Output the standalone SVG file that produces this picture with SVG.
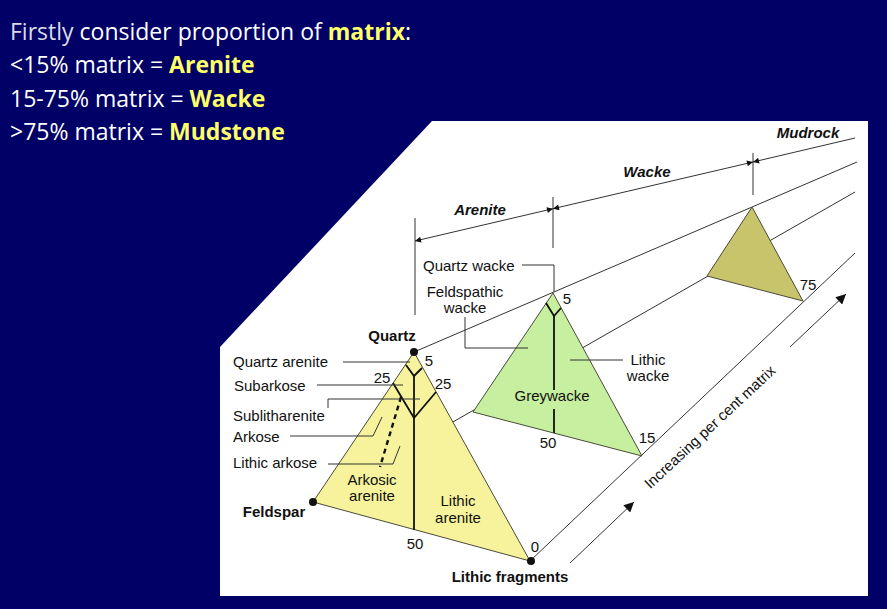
<svg xmlns="http://www.w3.org/2000/svg" width="887" height="609" viewBox="0 0 887 609">
  <defs>
    <style>
      .head { font-family: "Open Sans", "Liberation Sans", sans-serif; font-size: 23px; fill: #ffffff; }
      .dim { fill: #dcdce6; }
      .hl { fill: #ffff66; font-weight: bold; }
      .lbl { font-family: "Liberation Sans", Arial, sans-serif; font-size: 15px; fill: #111111; }
      .b { font-weight: bold; }
      .bi { font-weight: bold; font-style: italic; }
      .mid { text-anchor: middle; }
      .edge { stroke: #4a4a38; stroke-width: 1; stroke-linejoin: round; }
      .inner { fill: none; stroke: #111111; stroke-width: 1.8; }
      .lead { fill: none; stroke: #333333; stroke-width: 1; }
      .conn { fill: none; stroke: #333333; stroke-width: 1; }
    </style>
    <marker id="ah" viewBox="0 0 10 10" refX="10" refY="5" markerWidth="9" markerHeight="6" markerUnits="userSpaceOnUse" orient="auto-start-reverse">
      <path d="M0,0 L10,5 L0,10 Z" fill="#111111"/>
    </marker>
    <marker id="big" viewBox="0 0 10 10" refX="10" refY="5" markerWidth="16" markerHeight="10" markerUnits="userSpaceOnUse" orient="auto">
      <path d="M0,0 L10,5 L0,10 Z" fill="#111111"/>
    </marker>
  </defs>

  <rect x="0" y="0" width="887" height="609" fill="#000066"/>

  <g id="intro-text" class="head">
    <text x="10" y="40"><tspan class="dim">Firstly</tspan> consider proportion of <tspan class="hl">matrix</tspan>:</text>
    <text x="10" y="73">&lt;15% matrix = <tspan class="hl">Arenite</tspan></text>
    <text x="10" y="107">15-75% matrix = <tspan class="hl">Wacke</tspan></text>
    <text x="10" y="140">&gt;75% matrix = <tspan class="hl">Mudstone</tspan></text>
  </g>

  <polygon id="panel" points="432,121 868,121 868,596 220,596 220,347" fill="#ffffff"/>

  <g id="connectors">
    <line class="conn" x1="414" y1="352" x2="857" y2="162"/>
    <line class="conn" x1="313" y1="502" x2="855" y2="192"/>
    <line class="conn" x1="530" y1="561" x2="855" y2="253"/>
    <line class="conn" x1="415" y1="218" x2="415" y2="315"/>
    <line class="conn" x1="553" y1="197" x2="553" y2="248"/>
    <line class="conn" x1="753" y1="153" x2="753" y2="195"/>
    <line class="conn" x1="415" y1="241" x2="553" y2="208.7" marker-start="url(#ah)" marker-end="url(#ah)"/>
    <line class="conn" x1="553" y1="208.7" x2="753" y2="162" marker-start="url(#ah)" marker-end="url(#ah)"/>
    <line class="conn" x1="855" y1="138" x2="753" y2="162" marker-end="url(#ah)"/>
    <line class="conn" x1="570" y1="563" x2="634" y2="502" marker-end="url(#big)"/>
    <line class="conn" x1="790" y1="347" x2="846" y2="294" marker-end="url(#big)"/>
  </g>

  <g id="dimension-labels" class="lbl bi mid">
    <text x="480" y="215">Arenite</text>
    <text x="647" y="177">Wacke</text>
    <text x="808" y="138">Mudrock</text>
  </g>

  <g id="arenite-triangle">
    <polygon class="edge" points="414,352 313,502 530,561" fill="#f6f39c"/>
    <polyline class="inner" points="406,365 414,376 422,368"/>
    <polyline class="inner" points="393,383 414,418 436,392"/>
    <line class="inner" x1="414" y1="376" x2="414" y2="530"/>
    <line x1="401" y1="397" x2="380" y2="467" stroke="#111111" stroke-width="2.4" stroke-dasharray="5,4"/>
    <polyline class="lead" points="343,362 410,362"/>
    <polyline class="lead" points="317,385 403,385"/>
    <polyline class="lead" points="328,408 328,399 420,399"/>
    <polyline class="lead" points="290,436 373,436 382,417"/>
    <polyline class="lead" points="328,464 393,464 400,446"/>
    <circle cx="414" cy="352" r="4" fill="#111111"/>
    <circle cx="313" cy="502" r="4" fill="#111111"/>
    <circle cx="531" cy="561" r="4" fill="#111111"/>
    <g class="lbl">
      <text x="233" y="367">Quartz arenite</text>
      <text x="234" y="391">Subarkose</text>
      <text x="233" y="421">Sublitharenite</text>
      <text x="233" y="442">Arkose</text>
      <text x="233" y="468">Lithic arkose</text>
      <text class="b mid" x="392" y="341">Quartz</text>
      <text class="mid" x="382" y="383">25</text>
      <text class="mid" x="443" y="389">25</text>
      <text class="mid" x="429" y="366">5</text>
      <text class="mid" x="372" y="485">Arkosic</text>
      <text class="mid" x="372" y="501">arenite</text>
      <text class="mid" x="458" y="506">Lithic</text>
      <text class="mid" x="458" y="523">arenite</text>
      <text class="b mid" x="274" y="517">Feldspar</text>
      <text class="mid" x="415" y="549">50</text>
      <text class="mid" x="535" y="552">0</text>
      <text class="b mid" x="510" y="582">Lithic fragments</text>
    </g>
  </g>

  <g id="wacke-triangle">
    <polygon class="edge" points="553,293 473,412 642,456" fill="#c6ef9f"/>
    <polyline class="inner" points="546,303 554,316 561,308"/>
    <line class="inner" x1="554" y1="316" x2="554" y2="390"/>
    <line class="inner" x1="554" y1="409" x2="554" y2="433"/>
    <polyline class="lead" points="522,265 554,265 554,292"/>
    <polyline class="lead" points="465,317 465,348 528,348"/>
    <polyline class="lead" points="570,360 623,360"/>
    <g class="lbl">
      <text x="423" y="271">Quartz wacke</text>
      <text class="mid" x="465" y="297">Feldspathic</text>
      <text class="mid" x="465" y="313">wacke</text>
      <text class="mid" x="648" y="365">Lithic</text>
      <text class="mid" x="648" y="381">wacke</text>
      <text class="mid" x="552" y="401">Greywacke</text>
      <text class="mid" x="548" y="448">50</text>
      <text class="mid" x="647" y="443">15</text>
      <text class="mid" x="567" y="304">5</text>
    </g>
  </g>

  <g id="mudrock-triangle">
    <polygon class="edge" points="752,207 707,276 803,301" fill="#c8c46c"/>
    <text class="lbl mid" x="808" y="290">75</text>
  </g>

  <g id="matrix-axis-label">
    <text class="lbl mid" transform="translate(710,427) rotate(-43)" x="0" y="5">Increasing per cent matrix</text>
  </g>
</svg>
